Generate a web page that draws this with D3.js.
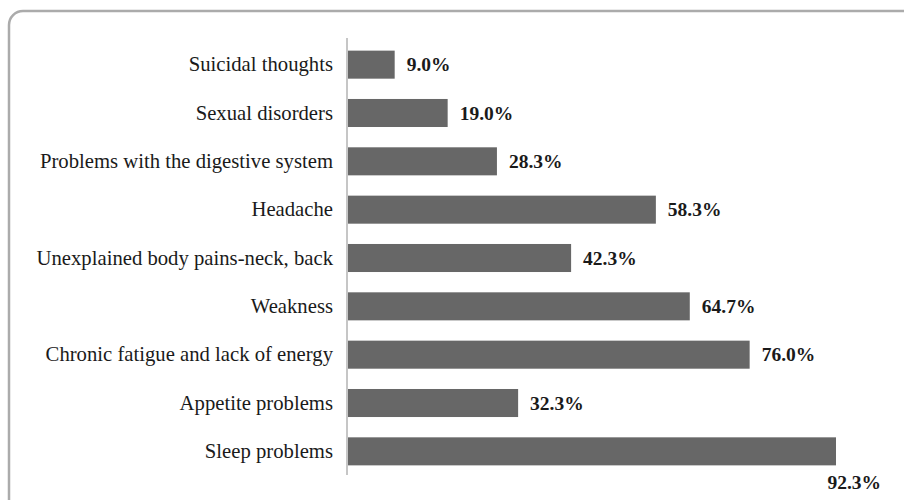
<!DOCTYPE html>
<html>
<head>
<meta charset="utf-8">
<script src="https://cdn.jsdelivr.net/npm/d3@7"></script>
<style>
  html, body { margin: 0; padding: 0; background: #fff; }
  svg { display: block; }
  .lbl { font-family: "Liberation Serif", "DejaVu Serif", serif; }
</style>
</head>
<body>
<svg id="chart" width="904" height="500"></svg>
<script>
// Reported symptoms and share of respondents (%)
const symptoms = [
  "Suicidal thoughts",
  "Sexual disorders",
  "Problems with the digestive system",
  "Headache",
  "Unexplained body pains-neck, back",
  "Weakness",
  "Chronic fatigue and lack of energy",
  "Appetite problems",
  "Sleep problems"
];
const shares = [9.0, 19.0, 28.3, 58.3, 42.3, 64.7, 76.0, 32.3, 92.3];

const svg = d3.select("#chart");

// Rounded frame around the chart area
svg.append("rect")
  .attr("x", 9).attr("y", 11)
  .attr("width", 1000).attr("height", 1000)
  .attr("rx", 14).attr("ry", 14)
  .attr("fill", "none")
  .attr("stroke", "#ababab")
  .attr("stroke-width", 2.5);

const axisX = 347;
const x = d3.scaleLinear().domain([0, 92.3]).range([axisX, 836]);
const y = d3.scaleBand().domain(symptoms).range([40, 476]).paddingInner(0.42).paddingOuter(0.22);

// Category axis
const yAxis = d3.axisLeft(y).tickSize(0).tickPadding(14);
const gy = svg.append("g").attr("transform", `translate(${axisX},0)`).call(yAxis);
gy.attr("font-family", null).attr("font-size", null);
gy.select(".domain").attr("stroke", "#a0a0a0").attr("stroke-width", 1.2)
  .attr("d", `M0,38V475`);
gy.selectAll("text")
  .attr("class", "lbl")
  .style("font-size", "20.7px")
  .attr("fill", "#1a1a1a");

// Bars
svg.append("g").selectAll("rect")
  .data(symptoms)
  .join("rect")
  .attr("x", x(0) + 1)
  .attr("y", d => y(d))
  .attr("width", (d, i) => x(shares[i]) - x(0) - 1)
  .attr("height", y.bandwidth())
  .attr("fill", "#676767");

// Value labels (the longest bar carries its label underneath)
const last = shares.length - 1;
svg.append("g").selectAll("text")
  .data(symptoms)
  .join("text")
  .attr("class", "lbl")
  .attr("x", (d, i) => i === last ? x(shares[i]) + 45 : x(shares[i]) + 12)
  .attr("y", (d, i) => i === last ? y(d) + y.bandwidth() + 24 : y(d) + y.bandwidth() / 2)
  .attr("dy", (d, i) => i === last ? "0" : "0.35em")
  .attr("text-anchor", (d, i) => i === last ? "end" : "start")
  .style("font-weight", "bold")
  .style("font-size", "19.5px")
  .attr("fill", "#1a1a1a")
  .text((d, i) => shares[i].toFixed(1) + "%");
</script>
</body>
</html>
